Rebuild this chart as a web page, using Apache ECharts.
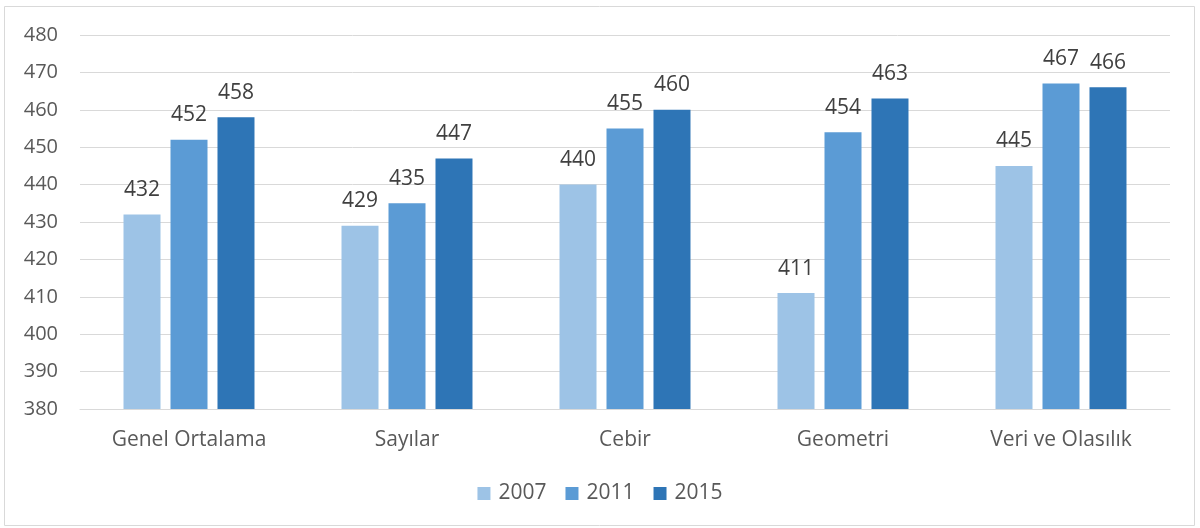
<!DOCTYPE html>
<html>
<head>
<meta charset="utf-8">
<script src="https://cdn.jsdelivr.net/npm/echarts@6/dist/echarts.min.js"></script>
<style>
  html, body { margin: 0; padding: 0; background: #fff; }
  #chart { width: 1200px; height: 528px; }
</style>
</head>
<body>
<div id="chart"></div>
<script>
// kategoriler ve yıllara göre puanlar
const categories = ['Genel Ortalama', 'Sayılar', 'Cebir', 'Geometri', 'Veri ve Olasılık'];
const years = ['2007', '2011', '2015'];
const scores2007 = [432, 429, 440, 411, 445];
const scores2011 = [452, 435, 455, 454, 467];
const scores2015 = [458, 447, 460, 463, 466];
const colors = ['#9DC3E6', '#5B9BD5', '#2E75B6'];

const font = '"Open Sans", sans-serif';

let chart = echarts.init(document.getElementById('chart'));

let bar = (name, data, color) => {
    return {
        name: name,
        type: 'bar',
        data: data,
        barWidth: 37,
        barGap: '27%',
        itemStyle: { color: color },
        label: {
            show: true,
            position: 'top',
            distance: 14,
            color: '#404040',
            fontSize: 21,
            fontFamily: font
        }
    };
};

chart.setOption({
    animation: false,
    textStyle: { fontFamily: font },
    graphic: [{
        type: 'rect',
        shape: { x: 4.5, y: 6.5, width: 1190, height: 519 },
        style: { fill: 'none', stroke: '#d9d9d9', lineWidth: 1 },
        silent: true
    }],
    grid: { left: 80, right: 30, top: 35, bottom: 119 },
    legend: {
        bottom: 19,
        left: 'center',
        itemWidth: 13,
        itemHeight: 13,
        itemGap: 19,
        icon: 'rect',
        textStyle: { color: '#595959', fontSize: 21, fontFamily: font, padding: [0, 0, 0, 3] },
        data: years
    },
    xAxis: {
        type: 'category',
        data: categories,
        axisLine: { lineStyle: { color: '#d9d9d9', width: 1 } },
        axisTick: { show: false },
        axisLabel: { color: '#595959', fontSize: 21, margin: 21, fontFamily: font }
    },
    yAxis: {
        type: 'value',
        min: 380,
        max: 480,
        interval: 10,
        axisLine: { show: false },
        axisTick: { show: false },
        splitLine: { lineStyle: { color: '#d9d9d9', width: 1 } },
        axisLabel: { color: '#595959', fontSize: 20, margin: 22, fontFamily: font }
    },
    series: [
        bar(years[0], scores2007, colors[0]),
        bar(years[1], scores2011, colors[1]),
        bar(years[2], scores2015, colors[2])
    ]
});
</script>
</body>
</html>
